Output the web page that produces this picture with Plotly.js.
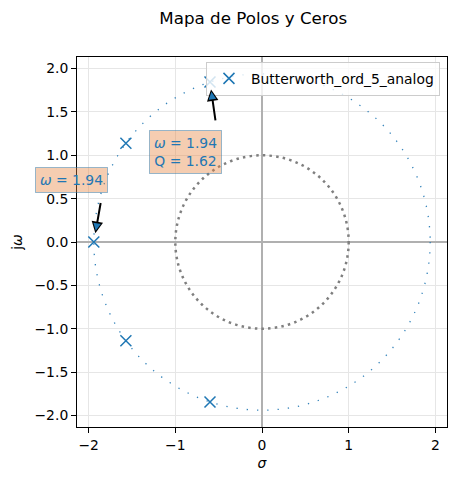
<!DOCTYPE html>
<html><head><meta charset="utf-8">
<script src="https://cdn.plot.ly/plotly-3.0.1.min.js"></script>
<style>html,body{margin:0;padding:0;background:#fff}#chart{width:456px;height:480px}</style>
</head><body><div id="chart"></div>
<script>
// ---- data ----
const poleRe = [-0.60, -1.57, -1.94, -1.57, -0.60];
const poleIm = [1.845, 1.14, 0.0, -1.14, -1.845];
const seriesName = 'Butterworth_ord_5_analog';
const omegaN = 1.94;
const qFactor = 1.62;
const unitRadius = 1;
const xTicks = [-2, -1, 0, 1, 2];
const yTicks = [-2, -1.5, -1, -0.5, 0, 0.5, 1, 1.5, 2];
const yTickText = ['−2.0', '−1.5', '−1.0', '−0.5', '0.0', '0.5', '1.0', '1.5', '2.0'];

// ---- style ----
const F = 'DejaVu Sans, sans-serif';
const FS = 13.9;
const C0 = '#1f77b4';

const traces = [{
  type: 'scatter', mode: 'markers', name: seriesName,
  x: poleRe, y: poleIm,
  marker: {symbol: 'x-thin', size: 11, color: C0, line: {color: C0, width: 1.5}},
  showlegend: true, hoverinfo: 'skip'
}];

function arrowPair(px, py, dx, dy, len, standoff) {
  const L = Math.hypot(dx, dy), ux = dx / L, uy = dy / L;
  const sIn = standoff + 2.4;
  return [
    {x: px, y: py, xref: 'x', yref: 'y', text: '', showarrow: true,
     ax: ux * len, ay: uy * len, axref: 'pixel', ayref: 'pixel',
     arrowhead: 2, arrowsize: 1.15, arrowwidth: 2, arrowcolor: '#000', standoff: standoff},
    {x: px, y: py, xref: 'x', yref: 'y', text: '', showarrow: true,
     ax: ux * (sIn + 8), ay: uy * (sIn + 8), axref: 'pixel', ayref: 'pixel',
     arrowhead: 2, arrowsize: 1.5, arrowwidth: 1, arrowcolor: C0, standoff: sIn}
  ];
}

const boxStyle = {
  showarrow: false, font: {family: F, size: FS, color: C0},
  bgcolor: 'rgba(230,130,60,0.4)', bordercolor: 'rgba(31,119,180,0.45)',
  borderwidth: 1, borderpad: 4, align: 'center', xref: 'paper', yref: 'paper',
  xanchor: 'center', yanchor: 'middle'
};

const annotations = [
  Object.assign({}, boxStyle, {x: 0.292, y: 0.743,
    text: '<i>ω</i> = ' + omegaN.toFixed(2) + '<br>Q = ' + qFactor.toFixed(2)}),
  Object.assign({}, boxStyle, {x: -0.0143, y: 0.667,
    text: '<i>ω</i> = ' + omegaN.toFixed(2)}),
  ...arrowPair(poleRe[0], poleIm[0], 5.7, 40, 40.3, 7.5),
  ...arrowPair(poleRe[2], poleIm[2], 7.1, -40.5, 41.1, 9)
];

const shapes = [
  {type: 'circle', xref: 'x', yref: 'y', x0: -unitRadius, y0: -unitRadius, x1: unitRadius, y1: unitRadius,
   line: {color: '#7f7f7f', width: 2.5, dash: '2.5px,4.2px'}, layer: 'between'},
  {type: 'circle', xref: 'x', yref: 'y', x0: -omegaN, y0: -omegaN, x1: omegaN, y1: omegaN,
   line: {color: 'rgba(31,119,180,0.9)', width: 1.3, dash: '1.3px,9px'}, layer: 'between'}
];

const axBase = {
  range: [-2.134, 2.134], ticks: 'outside', ticklen: 5, tickwidth: 1, tickcolor: '#000',
  showline: true, mirror: true, linecolor: '#000', linewidth: 1,
  showgrid: true, gridcolor: '#e6e6e6', gridwidth: 1,
  zeroline: true, zerolinecolor: '#b0b0b0', zerolinewidth: 2.5,
  tickfont: {family: F, size: FS, color: '#000'}, automargin: false, fixedrange: true
};

const layout = {
  width: 456, height: 480,
  margin: {l: 77, r: 9, t: 57, b: 53},
  paper_bgcolor: '#fff', plot_bgcolor: '#fff',
  font: {family: F, size: FS, color: '#000'},
  title: {text: 'Mapa de Polos y Ceros', font: {family: F, size: 16.7, color: '#000'},
          x: 0.5555, xref: 'container', xanchor: 'center', y: 0.9625, yref: 'container', yanchor: 'middle'},
  xaxis: Object.assign({}, axBase, {tickmode: 'array', tickvals: xTicks,
          ticktext: xTicks.map(v => v < 0 ? '−' + Math.abs(v) : String(v)),
          title: {text: '<i>σ</i>', font: {family: F, size: FS, color: '#000'}, standoff: 6}}),
  yaxis: Object.assign({}, axBase, {tickmode: 'array', tickvals: yTicks, ticktext: yTickText,
          title: {text: 'j<i>ω</i>', font: {family: F, size: FS, color: '#000'}, standoff: 8}}),
  showlegend: true,
  legend: {x: 0.981, xanchor: 'right', y: 0.987, yanchor: 'top', itemwidth: 34,
           bgcolor: 'rgba(255,255,255,0.8)', bordercolor: '#cccccc', borderwidth: 1,
           font: {family: F, size: FS, color: '#000'}},
  shapes: shapes,
  annotations: annotations,
  hovermode: false
};

Plotly.newPlot('chart', traces, layout, {staticPlot: true, displayModeBar: false});
</script>
</body></html>
